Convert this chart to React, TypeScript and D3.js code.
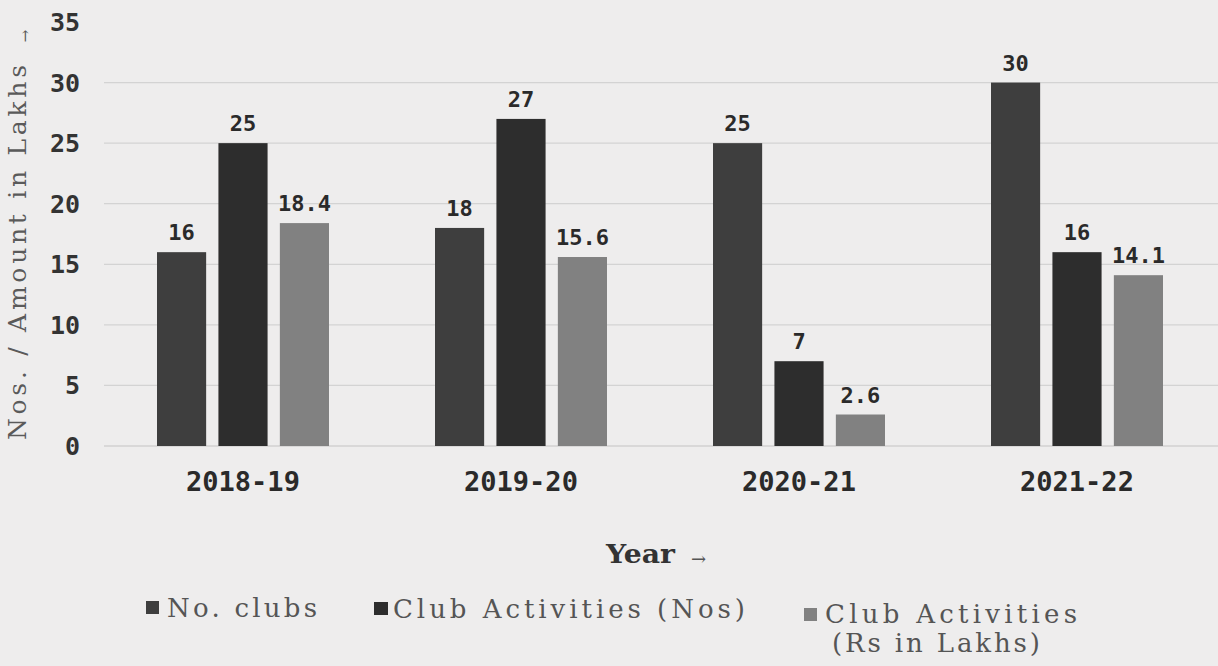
import React from "react";
import * as d3 from "d3";

const years = ["2018-19", "2019-20", "2020-21", "2021-22"];
const seriesNames = ["No. clubs", "Club Activities (Nos)", "Club Activities", "(Rs in Lakhs)"];
const noClubs = [16, 18, 25, 30];
const activitiesNos = [25, 27, 7, 16];
const activitiesRs = [18.4, 15.6, 2.6, 14.1];
const yTicks = [0, 5, 10, 15, 20, 25, 30, 35];
const seriesColors = ["#3e3e3e", "#2d2d2d", "#818181"];

const W = 1218;
const H = 666;

export default function App() {
  const values = [noClubs, activitiesNos, activitiesRs];
  const x0 = d3.scaleBand<string>().domain(years).range([104, 1216]).padding(0);
  const x1 = d3
    .scaleBand<number>()
    .domain([0, 1, 2])
    .range([53, 225])
    .paddingInner(0.2)
    .paddingOuter(0);
  const y = d3.scaleLinear().domain([0, 35]).range([446, 22]);
  const fmt = (v: number) => (Number.isInteger(v) ? String(v) : v.toFixed(1));
  const boldMono = "'DejaVu Sans Mono', monospace";
  const serif = "'DejaVu Serif', serif";

  return (
    <svg
      width={W}
      height={H}
      viewBox={`0 0 ${W} ${H}`}
      style={{ position: "absolute", left: 0, top: 0, display: "block" }}
    >
      <rect x={0} y={0} width={W} height={H} fill="#eeeded" />
      {/* gridlines */}
      {yTicks
        .filter((t) => t < 35)
        .map((t) => (
          <line
            key={"g" + t}
            x1={104}
            x2={W}
            y1={y(t)}
            y2={y(t)}
            stroke={t === 0 ? "#c4c4c4" : "#d3d3d3"}
            strokeWidth={1.2}
          />
        ))}
      {/* y tick labels */}
      {yTicks.map((t) => (
        <text
          key={"t" + t}
          x={80}
          y={y(t)}
          dy="0.36em"
          textAnchor="end"
          fontFamily={boldMono}
          fontWeight="bold"
          fontSize={25}
          fill="#333"
        >
          {t}
        </text>
      ))}
      {/* y title */}
      <text
        transform={`translate(26, 440) rotate(-90)`}
        fontFamily={serif}
        fontSize={25}
        textLength={375}
        lengthAdjust="spacing"
        fill="#5a5a5a"
      >
        Nos. / Amount in Lakhs
      </text>
      <text
        transform={`translate(30, 36) rotate(-90)`}
        textAnchor="middle"
        fontFamily={serif}
        fontSize={15}
        fill="#5a5a5a"
      >
        →
      </text>
      {/* bars */}
      {years.map((yr, i) => (
        <g key={yr} transform={`translate(${x0(yr)}, 0)`}>
          {values.map((vals, s) => {
            const v = vals[i];
            const bx = x1(s)!;
            const bw = x1.bandwidth();
            return (
              <g key={s}>
                <rect
                  x={bx}
                  y={y(v)}
                  width={bw}
                  height={y(0) - y(v)}
                  fill={seriesColors[s]}
                />
                <text
                  x={bx + bw / 2}
                  y={y(v) - 12}
                  textAnchor="middle"
                  fontFamily={boldMono}
                  fontWeight="bold"
                  fontSize={22}
                  fill="#2a2a2a"
                >
                  {fmt(v)}
                </text>
              </g>
            );
          })}
          <text
            x={x0.bandwidth() / 2}
            y={491}
            textAnchor="middle"
            fontFamily={boldMono}
            fontWeight="bold"
            fontSize={27}
            fill="#2a2a2a"
          >
            {yr}
          </text>
        </g>
      ))}
      {/* x title */}
      <text
        x={606}
        y={563}
        fontFamily={serif}
        fontWeight="bold"
        fontSize={26}
        textLength={69}
        lengthAdjust="spacingAndGlyphs"
        fill="#333"
      >
        Year
      </text>
      <text x={691} y={565} fontFamily={serif} fontSize={18} fill="#555">
        →
      </text>
      {/* legend */}
      <g fontFamily={serif} fontSize={26} fill="#555">
        <rect x={146} y={601} width={13} height={13} fill={seriesColors[0]} />
        <text x={167} y={617} textLength={150} lengthAdjust="spacing">
          {seriesNames[0]}
        </text>
        <rect x={374} y={602} width={14} height={13} fill={seriesColors[1]} />
        <text x={393} y={618} textLength={352} lengthAdjust="spacing">
          {seriesNames[1]}
        </text>
        <rect x={804} y={608} width={13} height={13} fill={seriesColors[2]} />
        <text x={825} y={623} textLength={252} lengthAdjust="spacing">
          {seriesNames[2]}
        </text>
        <text x={832} y={652} textLength={208} lengthAdjust="spacing">
          {seriesNames[3]}
        </text>
      </g>
    </svg>
  );
}
